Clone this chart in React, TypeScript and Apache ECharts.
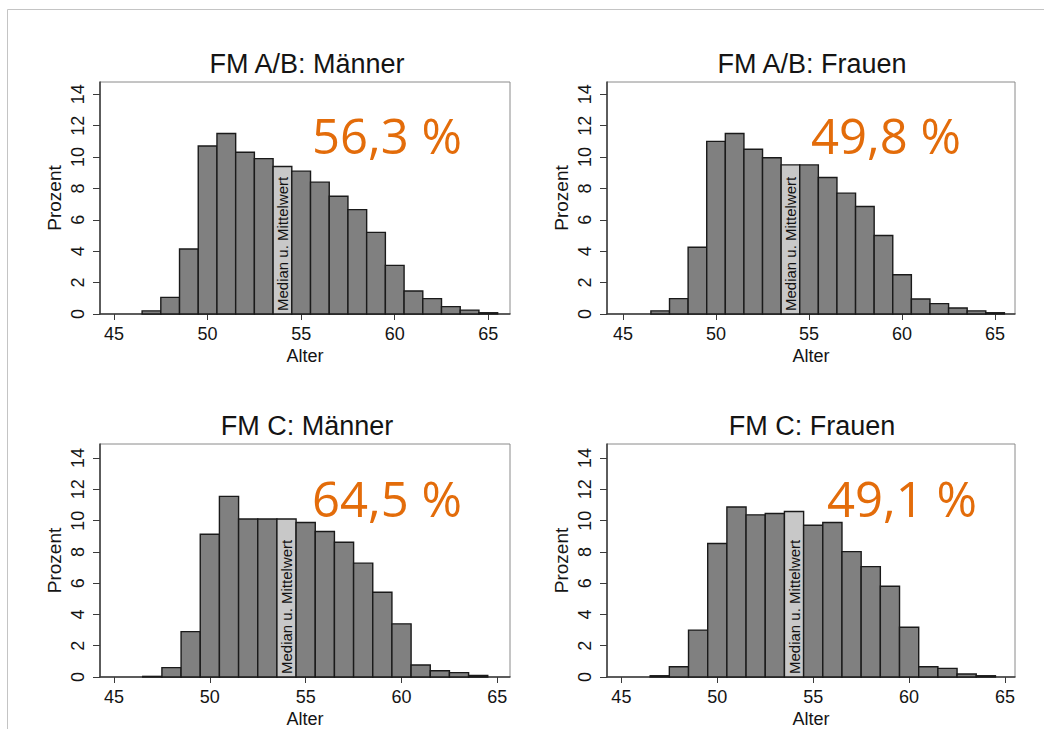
import React, { useEffect, useRef } from 'react';
import * as echarts from 'echarts';

// ---- data ----
const agesAB = [47, 48, 49, 50, 51, 52, 53, 54, 55, 56, 57, 58, 59, 60, 61, 62, 63, 64, 65];
const agesC = [47, 48, 49, 50, 51, 52, 53, 54, 55, 56, 57, 58, 59, 60, 61, 62, 63, 64];
const fmABMaenner = [0.2, 1.06, 4.14, 10.7, 11.5, 10.3, 9.9, 9.4, 9.1, 8.4, 7.5, 6.65, 5.2, 3.1, 1.47, 0.98, 0.47, 0.25, 0.08];
const fmABFrauen = [0.2, 0.98, 4.25, 11.0, 11.5, 10.5, 9.95, 9.5, 9.5, 8.7, 7.7, 6.85, 5.0, 2.5, 0.96, 0.66, 0.38, 0.2, 0.08];
const fmCMaenner = [0.04, 0.6, 2.9, 9.13, 11.55, 10.1, 10.1, 10.1, 9.88, 9.3, 8.62, 7.28, 5.42, 3.4, 0.77, 0.4, 0.28, 0.1];
const fmCFrauen = [0.08, 0.66, 3.0, 8.54, 10.87, 10.37, 10.46, 10.58, 9.7, 9.88, 8.02, 7.06, 5.8, 3.18, 0.66, 0.55, 0.19, 0.08];
const panelTitles = ['FM A/B: Männer', 'FM A/B: Frauen', 'FM C: Männer', 'FM C: Frauen'];
const panelShares = ['56,3 %', '49,8 %', '64,5 %', '49,1 %'];
const medianAge = 54;
const medianLabel = 'Median u. Mittelwert';
const xTickValues = [45, 50, 55, 60, 65];
const yTickValues = [0, 2, 4, 6, 8, 10, 12, 14];
const xAxisName = 'Alter';
const yAxisName = 'Prozent';

const panelAges = [agesAB, agesAB, agesC, agesC];
const panelValues = [fmABMaenner, fmABFrauen, fmCMaenner, fmCFrauen];

// ---- layout ----
const grids = [
  { left: 100, top: 82, width: 410, height: 232 },
  { left: 607, top: 82, width: 408, height: 232 },
  { left: 100, top: 444, width: 410, height: 233 },
  { left: 607, top: 444, width: 408, height: 233 },
];
const xRanges = [
  [44.25, 66.16],
  [44.14, 66.07],
  [44.27, 65.66],
  [44.25, 65.52],
];
const yMaxes = [14.78, 14.78, 14.9, 14.9];
const titlePos = [
  [307, 64],
  [812, 64],
  [307, 426],
  [812, 426],
];
const sharePos = [
  [312, 135],
  [811, 135],
  [312, 498],
  [827, 498],
];

const FONT = '"Liberation Sans", Arial, sans-serif';
const AXIS_COLOR = '#3a3a3a';
const TEXT_COLOR = '#141414';

const renderItem = (params: any, api: any) => {
  const x = api.value(0);
  const v = api.value(1);
  const tl = api.coord([x - 0.5, v]);
  const br = api.coord([x + 0.5, 0]);
  const isMed = x === medianAge;
  const rect = {
    type: 'rect',
    shape: { x: tl[0], y: tl[1], width: br[0] - tl[0], height: br[1] - tl[1] },
    style: { fill: isMed ? '#c8c8c8' : '#808080', stroke: '#1a1a1a', lineWidth: 1.4 },
  };
  if (!isMed) return rect;
  return {
    type: 'group',
    children: [
      rect,
      {
        type: 'text',
        x: (tl[0] + br[0]) / 2,
        y: br[1] - 3,
        rotation: Math.PI / 2,
        style: {
          text: medianLabel,
          textAlign: 'left',
          textVerticalAlign: 'middle',
          fontSize: 15,
          fontFamily: FONT,
          fill: '#111',
        },
      },
    ],
  };
};

export default function App() {
  const ref = useRef<HTMLDivElement>(null);
  useEffect(() => {
    if (!ref.current) return;
    const chart = echarts.init(ref.current, null, { renderer: 'svg' });
    const option: any = {
      animation: false,
      backgroundColor: '#ffffff',
      grid: grids.map((g) => ({
        ...g,
        show: true,
        borderColor: '#8a8a8a',
        borderWidth: 1,
        backgroundColor: 'transparent',
        containLabel: false,
      })),
      xAxis: grids.map((_, i) => ({
        type: 'value',
        gridIndex: i,
        min: xRanges[i][0],
        max: xRanges[i][1],
        name: xAxisName,
        nameLocation: 'middle',
        nameGap: 33,
        nameTextStyle: { fontSize: 18, fontFamily: FONT, color: TEXT_COLOR },
        axisLine: { show: true, onZero: false, lineStyle: { color: AXIS_COLOR, width: 1.5 } },
        axisTick: { show: true, length: 6, lineStyle: { color: AXIS_COLOR }, customValues: xTickValues },
        axisLabel: { fontSize: 18, fontFamily: FONT, color: TEXT_COLOR, margin: 11, customValues: xTickValues },
        splitLine: { show: false },
      })),
      yAxis: grids.map((_, i) => ({
        type: 'value',
        gridIndex: i,
        min: 0,
        max: yMaxes[i],
        name: yAxisName,
        nameLocation: 'middle',
        nameGap: 36,
        nameTextStyle: { fontSize: 19, fontFamily: FONT, color: TEXT_COLOR },
        axisLine: { show: true, lineStyle: { color: AXIS_COLOR, width: 1.5 } },
        axisTick: { show: true, length: 7, lineStyle: { color: AXIS_COLOR }, customValues: yTickValues },
        axisLabel: { fontSize: 18, fontFamily: FONT, color: TEXT_COLOR, margin: 13, rotate: 90, customValues: yTickValues },
        splitLine: { show: false },
      })),
      series: grids.map((_, i) => ({
        type: 'custom',
        xAxisIndex: i,
        yAxisIndex: i,
        renderItem,
        clip: false,
        data: panelAges[i].map((a, j) => [a, panelValues[i][j]]),
      })),
      graphic: [
        {
          type: 'polyline',
          shape: { points: [[7.5, 729], [7.5, 9.5], [1044, 9.5]] },
          style: { stroke: '#c4c4c4', lineWidth: 1, fill: 'none' },
          silent: true,
        },
        ...panelTitles.map((t, i) => ({
          type: 'text',
          x: titlePos[i][0],
          y: titlePos[i][1],
          style: {
            text: t,
            textAlign: 'center',
            textVerticalAlign: 'middle',
            fontSize: 27,
            fontFamily: FONT,
            fill: TEXT_COLOR,
          },
        })),
        ...panelShares.map((t, i) => ({
          type: 'text',
          x: sharePos[i][0],
          y: sharePos[i][1],
          style: {
            text: t,
            textAlign: 'left',
            textVerticalAlign: 'middle',
            fontSize: 49,
            fontFamily: '"Open Sans", "Noto Sans", sans-serif',
            fill: '#e36c0a',
          },
        })),
      ],
    };
    chart.setOption(option);
    return () => chart.dispose();
  }, []);
  return (
    <div
      ref={ref}
      style={{ position: 'absolute', left: 0, top: 0, width: 1044, height: 729 }}
    />
  );
}
